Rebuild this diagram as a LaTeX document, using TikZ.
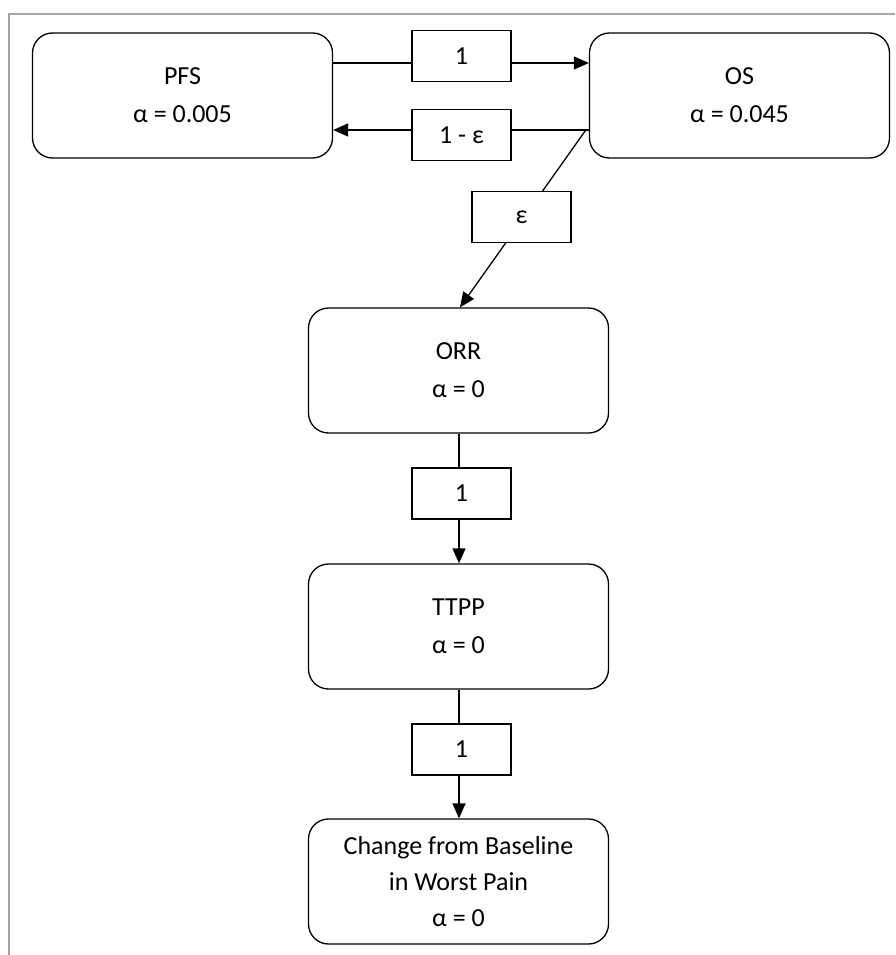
\documentclass[tikz,border=0pt]{standalone}
\usepackage{fontspec}
\setmainfont{Carlito}
\usetikzlibrary{arrows.meta,positioning}

\tikzset{
  endpoint/.style={draw, rounded corners=20pt, line width=1.3pt, align=center,
                   minimum width=300pt, minimum height=125pt, font=\fontsize{26}{36}\selectfont},
  weight/.style={draw, fill=white, line width=1.3pt, minimum width=99pt, minimum height=51pt,
                 font=\fontsize{26}{30}\selectfont},
  link/.style={line width=1.3pt},
  pass/.style={link, -{Triangle[length=15pt,width=13pt]}}
}

\begin{document}
\begin{tikzpicture}[x=1pt,y=-1pt]
\useasboundingbox (0,0) rectangle (895,955);
\draw[gray!70, line width=2pt] (9,955) -- (9,14) -- (895,14); % frame

\node[endpoint] (PFS) at (182.5,95.5) {PFS\\[2pt] α = 0.005};
\node[endpoint] (OS) at (739.5,95.5) {OS\\[2pt] α = 0.045};
\node[endpoint] (ORR) at (458.5,370.5) {ORR\\[2pt] α = 0};
\node[endpoint] (TTPP) at (458.5,626.5) {TTPP\\[2pt] α = 0};
\node[endpoint] (CFB) at (458.5,881.5) {Change from Baseline\\ in Worst Pain\\ α = 0};

\coordinate (split) at ([xshift=-3pt,yshift=-34.5pt]OS.west);
\draw[pass] ([yshift=32.5pt]PFS.east) -- ([yshift=32.5pt]OS.west);
\draw[pass] ([xshift=3pt]split) -- ([yshift=-34.5pt]PFS.east);
\draw[pass] (split) -- ([xshift=1.5pt]ORR.north);
\draw[pass] ([xshift=0.5pt]ORR.south) -- ([xshift=0.5pt]TTPP.north);
\draw[pass] ([xshift=0.5pt]TTPP.south) -- ([xshift=0.5pt]CFB.north);

\node[weight] (w1) at (461.5,56) {1};
\node[weight] (w2) at (461.5,135) {1 - ε};
\node[weight] (w3) at (521.5,217) {ε};
\node[weight] (w4) at (461.5,493.5) {1};
\node[weight] (w5) at (461.5,749.5) {1};
\end{tikzpicture}
\end{document}
